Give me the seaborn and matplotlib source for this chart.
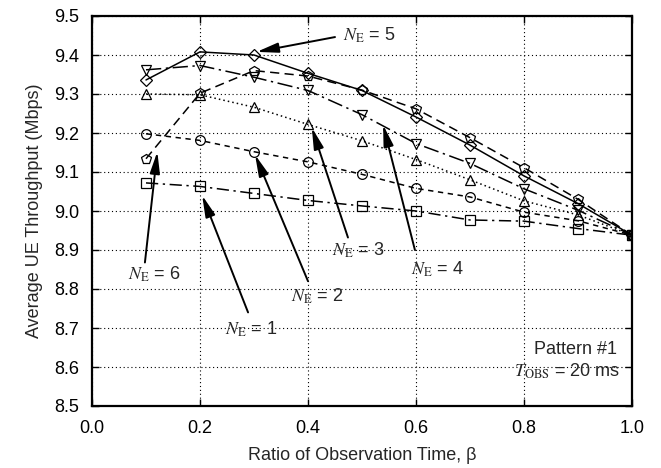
import matplotlib
matplotlib.use("Agg")
import matplotlib.pyplot as plt
import seaborn as sns
import numpy as np

# ---- data ----
beta = [0.1, 0.2, 0.3, 0.4, 0.5, 0.6, 0.7, 0.8, 0.9, 1.0]
ne1 = [9.072, 9.063, 9.045, 9.027, 9.013, 9.000, 8.977, 8.974, 8.955, 8.938]
ne2 = [9.198, 9.181, 9.152, 9.126, 9.094, 9.058, 9.036, 8.997, 8.975, 8.938]
ne3 = [9.300, 9.298, 9.266, 9.222, 9.180, 9.132, 9.080, 9.026, 8.990, 8.938]
ne4 = [9.362, 9.373, 9.343, 9.309, 9.247, 9.173, 9.122, 9.057, 9.002, 8.938]
ne5 = [9.336, 9.408, 9.400, 9.353, 9.309, 9.241, 9.169, 9.090, 9.019, 8.938]
ne6 = [9.134, 9.302, 9.360, 9.346, 9.310, 9.262, 9.188, 9.111, 9.030, 8.938]
series_labels = ["1", "2", "3", "4", "5", "6"]
xticks = [0.0, 0.2, 0.4, 0.6, 0.8, 1.0]
yticks = [8.5, 8.6, 8.7, 8.8, 8.9, 9.0, 9.1, 9.2, 9.3, 9.4, 9.5]

sns.set_style("ticks")
plt.rcParams['font.family'] = ['Liberation Sans', 'DejaVu Sans']
plt.rcParams['mathtext.fontset'] = 'stix'

fig = plt.figure(figsize=(6.61, 4.68), dpi=100)
ax = fig.add_axes([92/661, 62/468, 540/661, 390/468])

styles = [
    (ne1, 's', (0, (8, 3, 1.5, 3)), 7),
    (ne2, 'o', (0, (3.5, 3)), 7),
    (ne3, '^', (0, (1, 2)), 7),
    (ne4, 'v', (0, (10, 3, 1.5, 3)), 7),
    (ne5, 'D', '-', 6),
    (ne6, 'p', (0, (6, 3.5)), 7),
]
for vals, mk, ls, ms in styles:
    sns.lineplot(x=beta, y=vals, ax=ax, color='k', marker=mk, linestyle=ls,
                 linewidth=1.1, markersize=ms, markerfacecolor='none',
                 markeredgecolor='k', markeredgewidth=0.9, zorder=3)

ax.set_xlim(0, 1.0)
ax.set_ylim(8.5, 9.5)
ax.set_xticks(xticks)
ax.set_yticks(yticks)
ax.set_xticklabels([f"{v:.1f}" for v in xticks])
ax.set_yticklabels([f"{v:.1f}" for v in yticks])
ax.tick_params(direction='in', top=True, right=True, length=5, width=1,
               labelsize=13, colors='k')
ax.tick_params(axis='x', pad=10)
ax.tick_params(axis='y', pad=9.5)
ax.grid(True, color='k', linestyle=(0, (1, 2.5)), linewidth=0.8)
for s in ax.spines.values():
    s.set_linewidth(1.6)
    s.set_color('k')

ax.set_xlabel("Ratio of Observation Time, \u03b2", fontsize=13, labelpad=7)
ax.set_ylabel("Average UE Throughput (Mbps)", fontsize=13, labelpad=8)

arrow = dict(arrowstyle='-|>,head_length=1.3,head_width=0.3', color='k',
             lw=1.4, mutation_scale=10, shrinkA=0, shrinkB=0)

def label(n, x, y, ha='center'):
    ax.text(x, y, r"$N_{\mathrm{E}}$" + f" = {n}", fontsize=13, ha=ha,
            va='center', zorder=5)

# annotations: (label, text pos, arrow start, arrow tip)
label("5", 0.465, 9.451, ha='left')
ax.annotate('', xy=(0.305, 9.408), xytext=(0.45, 9.446), arrowprops=arrow)
label("6", 0.115, 8.838)
ax.annotate('', xy=(0.121, 9.152), xytext=(0.098, 8.868), arrowprops=arrow)
label("1", 0.294, 8.697)
ax.annotate('', xy=(0.204, 9.040), xytext=(0.289, 8.740), arrowprops=arrow)
label("2", 0.418, 8.781)
ax.annotate('', xy=(0.302, 9.144), xytext=(0.400, 8.820), arrowprops=arrow)
label("3", 0.493, 8.900)
ax.annotate('', xy=(0.407, 9.214), xytext=(0.474, 8.932), arrowprops=arrow)
label("4", 0.639, 8.850)
ax.annotate('', xy=(0.539, 9.221), xytext=(0.598, 8.900), arrowprops=arrow)

ax.text(0.972, 8.646, "Pattern #1", fontsize=13, ha='right', va='center')
ax.text(0.978, 8.590, r"$T_{\mathrm{OBS}}$" + " = 20 ms", fontsize=13,
        ha='right', va='center')

fig.savefig("out.png", dpi=100)
